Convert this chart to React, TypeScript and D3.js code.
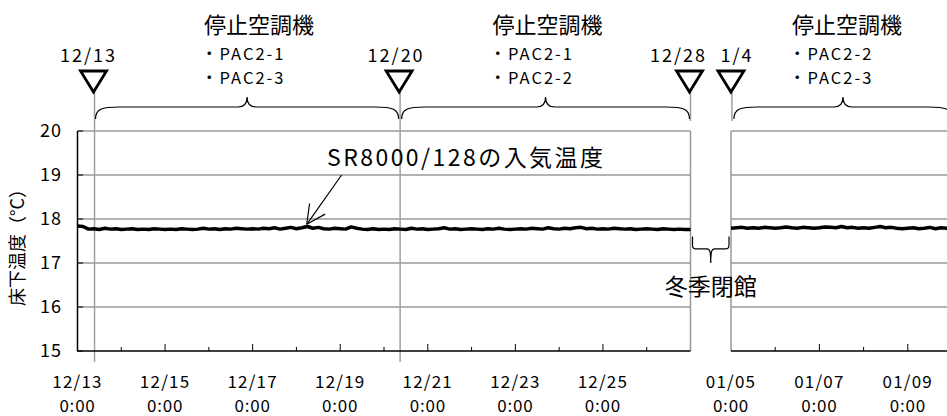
import React from 'react';
import * as d3 from 'd3';

const W = 947;
const H = 416;
const FONT = '"Noto Sans CJK JP", "Noto Sans", sans-serif';

// y axis (床下温度)
const yTicks = [15, 16, 17, 18, 19, 20];

// the two panels of the broken time axis
const leftStart = new Date(2008, 11, 13);
const leftEnd = new Date(2008, 11, 27);
const rightStart = new Date(2009, 0, 5);
const rightEnd = new Date(2009, 0, 10);
const stepHours = 3;

// SR8000/128 inlet temperature, every 3 hours
const leftTemps = [
  17.84, 17.83, 17.77, 17.78, 17.76, 17.79, 17.77, 17.78,
  17.76, 17.77, 17.78, 17.76, 17.77, 17.76, 17.78, 17.77,
  17.76, 17.77, 17.76, 17.78, 17.77, 17.76, 17.77, 17.79,
  17.77, 17.78, 17.76, 17.78, 17.77, 17.79, 17.78, 17.77,
  17.78, 17.77, 17.79, 17.78, 17.8, 17.77, 17.79, 17.81,
  17.78, 17.8, 17.83, 17.79, 17.81, 17.78, 17.77, 17.79,
  17.78, 17.77, 17.82, 17.79, 17.77, 17.76, 17.78, 17.76,
  17.77, 17.76, 17.78, 17.77, 17.76, 17.79, 17.77, 17.78,
  17.76, 17.77, 17.78, 17.8, 17.77, 17.78, 17.76, 17.77,
  17.78, 17.77, 17.76, 17.78, 17.77, 17.79, 17.77, 17.76,
  17.77, 17.78, 17.77, 17.79, 17.78, 17.77, 17.8, 17.78,
  17.77, 17.79, 17.78, 17.8, 17.81, 17.78, 17.79, 17.77,
  17.78, 17.77, 17.79, 17.78, 17.77, 17.78, 17.76, 17.77,
  17.78, 17.77, 17.76, 17.78, 17.77, 17.76, 17.77, 17.76,
  17.76,
];
const rightTemps = [
  17.79, 17.8, 17.81, 17.79, 17.8, 17.79, 17.81, 17.8,
  17.79, 17.8, 17.82, 17.8, 17.79, 17.81, 17.8, 17.79,
  17.8, 17.82, 17.81, 17.8, 17.83, 17.8, 17.81, 17.79,
  17.8, 17.79, 17.81, 17.83, 17.8, 17.81, 17.79, 17.78,
  17.79, 17.8, 17.78, 17.79, 17.81, 17.78, 17.8, 17.79,
  17.79,
];

// labelled x ticks
const leftLabelDates = [13, 15, 17, 19, 21, 23, 25].map(d => new Date(2008, 11, d));
const rightLabelDates = [5, 7, 9].map(d => new Date(2009, 0, d));

// event markers (▽)
const markers = [
  { label: '12/13', date: new Date(2008, 11, 13, 9, 20), panel: 'L' },
  { label: '12/20', date: new Date(2008, 11, 20, 8, 50), panel: 'L' },
  { label: '12/28', date: new Date(2008, 11, 27, 0, 0), panel: 'L' },
  { label: '1/4', date: new Date(2009, 0, 5, 0, 30), panel: 'R' },
];

const stopTitle = '停止空調機';
const stopUnits = [
  ['・PAC2-1', '・PAC2-3'],
  ['・PAC2-1', '・PAC2-2'],
  ['・PAC2-2', '・PAC2-3'],
];

const seriesName = 'SR8000/128の入気温度';
const closedLabel = '冬季閉館';
const yTitle = '床下温度（°C）';

const xL = d3.scaleTime().domain([leftStart, leftEnd]).range([77.5, 690.5]);
const xR = d3.scaleTime().domain([rightStart, rightEnd]).range([731, 952]);
const y = d3.scaleLinear().domain([15, 20]).range([351, 131]);

const fmtDay = d3.timeFormat('%m/%d');
const fmtTime = d3.timeFormat('%-H:%M');

const withDates = (start: Date, vals: number[]) =>
  vals.map((v, i) => ({ date: d3.timeHour.offset(start, i * stepHours), v }));

const braceUp = (x0: number, x1: number, yEnd: number, yFlat: number, yTip: number) => {
  const xm = (x0 + x1) / 2;
  const r = 24;
  const r2 = 9;
  return `M${x0},${yEnd} C${x0},${yFlat + 2} ${x0 + 6},${yFlat} ${x0 + r},${yFlat}
    L${xm - r2},${yFlat} C${xm - 3},${yFlat} ${xm},${yFlat - 3} ${xm},${yTip}
    C${xm},${yFlat - 3} ${xm + 3},${yFlat} ${xm + r2},${yFlat}
    L${x1 - r},${yFlat} C${x1 - 6},${yFlat} ${x1},${yFlat + 2} ${x1},${yEnd}`;
};

const braceDown = (x0: number, x1: number, yEnd: number, yFlat: number, yTip: number) => {
  const xm = (x0 + x1) / 2;
  return `M${x0},${yEnd} L${x0},${yFlat - 4} C${x0},${yFlat} ${x0 + 2},${yFlat} ${x0 + 6},${yFlat}
    L${xm - 4},${yFlat} C${xm - 1},${yFlat} ${xm},${yFlat + 2} ${xm},${yTip}
    C${xm},${yFlat + 2} ${xm + 1},${yFlat} ${xm + 4},${yFlat}
    L${x1 - 6},${yFlat} C${x1 - 2},${yFlat} ${x1},${yFlat} ${x1},${yFlat - 4} L${x1},${yEnd}`;
};

const App = () => {
  const line = d3.line<{ date: Date; v: number }>().y(d => y(d.v));
  const leftPath = line.x(d => xL(d.date))(withDates(leftStart, leftTemps)) || '';
  const rightPath = line.x(d => xR(d.date))(withDates(rightStart, rightTemps)) || '';

  const mx = markers.map(m => (m.panel === 'L' ? xL(m.date) : xR(m.date)));
  const labelDx = [-6, -4, -12, 5];
  const yTop = y(20);
  const yBot = y(15);

  const leftDays = d3.timeDay.range(d3.timeDay.offset(leftStart, 1), leftEnd);
  const rightDays = d3.timeDay.range(d3.timeDay.offset(rightStart, 1), rightEnd);
  const isMajor = (d: Date, labels: Date[]) => labels.some(l => +l === +d);

  // spans of the stop groups: marker to marker, last one to the end of the axis
  const spans: [number, number][] = [
    [mx[0] + 1, mx[1] - 1.5],
    [mx[1] + 1.5, mx[2] - 1],
    [mx[3] + 2, xR(rightEnd)],
  ];
  const textDx = [-43, -53, -51];

  const arrowTip: [number, number] = [xL(new Date(2008, 11, 18, 5, 40)), y(17.88)];
  const arrowTail: [number, number] = [xL(new Date(2008, 11, 19, 0, 45)), y(19)];
  const ang = Math.atan2(arrowTail[1] - arrowTip[1], arrowTail[0] - arrowTip[0]);
  const head = [-0.48, 0.45].map(a => [
    arrowTip[0] + 21 * Math.cos(ang + a),
    arrowTip[1] + 21 * Math.sin(ang + a),
  ]);

  const gapL = xL(leftEnd);
  const gapR = xR(rightStart);
  const gapMid = (gapL + gapR) / 2;

  return (
    <svg width={W} height={H} style={{ position: 'absolute', left: 0, top: 0, background: '#fff' }}
      fontFamily={FONT}>
      {/* grid lines */}
      {yTicks.filter(t => t > 15).map(t => (
        <g key={t}>
          <line x1={xL.range()[0]} x2={gapL} y1={y(t)} y2={y(t)} stroke="#666" strokeWidth={1} />
          <line x1={gapR} x2={W} y1={y(t)} y2={y(t)} stroke="#666" strokeWidth={1} />
        </g>
      ))}
      {/* panel borders at the break */}
      <line x1={gapL} x2={gapL} y1={yTop} y2={yBot} stroke="#999" strokeWidth={1.5} />
      <line x1={gapR} x2={gapR} y1={yTop} y2={yBot} stroke="#999" strokeWidth={1.5} />

      {/* marker lines */}
      {mx.map((x, i) => (
        <line key={i} x1={x} x2={x} y1={92} y2={i < 2 ? 362 : 121} stroke="#a0a0a0" strokeWidth={1.5} />
      ))}

      {/* y axis */}
      <line x1={77.5} x2={77.5} y1={yTop} y2={yBot} stroke="#000" strokeWidth={1.5} />
      {yTicks.map(t => (
        <g key={t}>
          <line x1={77.5} x2={83} y1={y(t)} y2={y(t)} stroke="#000" />
          <text x={62} y={y(t) + 6} textAnchor="end" fontSize={18} letterSpacing={1}>{t}</text>
        </g>
      ))}
      <text transform={`translate(24,243) rotate(-90)`} textAnchor="middle" fontSize={18}>{yTitle}</text>

      {/* x axes */}
      <line x1={77} x2={gapL} y1={yBot} y2={yBot} stroke="#000" strokeWidth={1.5} />
      <line x1={gapR} x2={W} y1={yBot} y2={yBot} stroke="#000" strokeWidth={1.5} />
      {leftDays.map(d => (
        <line key={+d} x1={xL(d)} x2={xL(d)} y1={yBot} y2={yBot - (isMajor(d, leftLabelDates) ? 7 : 4)} stroke="#000" />
      ))}
      {rightDays.map(d => (
        <line key={+d} x1={xR(d)} x2={xR(d)} y1={yBot} y2={yBot - (isMajor(d, rightLabelDates) ? 7 : 4)} stroke="#000" />
      ))}
      {[...leftLabelDates.map(d => [xL(d), d] as [number, Date]), ...rightLabelDates.map(d => [xR(d), d] as [number, Date])].map(([x, d]) => (
        <g key={+d}>
          <text x={x} y={388} textAnchor="middle" fontSize={17} letterSpacing={1.2}>{fmtDay(d)}</text>
          <text x={x} y={412} textAnchor="middle" fontSize={17} letterSpacing={0.8}>{fmtTime(d)}</text>
        </g>
      ))}

      {/* data */}
      <path d={leftPath} fill="none" stroke="#000" strokeWidth={3.5} strokeLinejoin="round" />
      <path d={rightPath} fill="none" stroke="#000" strokeWidth={3.5} strokeLinejoin="round" />

      {/* markers */}
      {markers.map((m, i) => (
        <g key={m.label}>
          <path d={`M${mx[i] - 14},71 L${mx[i] + 12},71 L${mx[i] - 1},92 Z`} fill="#fff" stroke="#000" strokeWidth={2.8} />
          <text x={mx[i] + labelDx[i]} y={62} textAnchor="middle" fontSize={18} letterSpacing={2}>{m.label}</text>
        </g>
      ))}

      {/* stop groups */}
      {spans.map(([a, b], i) => (
        <g key={i}>
          <path d={braceUp(a, b, 119, 107, 97)} fill="none" stroke="#000" strokeWidth={1.2} />
          <text x={(a + b) / 2 + textDx[i]} y={33} fontSize={22}>{stopTitle}</text>
          {stopUnits[i].map((u, j) => (
            <text key={j} x={(a + b) / 2 + textDx[i] - 3} y={59.5 + j * 24} fontSize={16.5} letterSpacing={2}>{u}</text>
          ))}
        </g>
      ))}

      {/* series annotation */}
      <text x={327} y={166} fontSize={23} textLength={276} lengthAdjust="spacing">{seriesName}</text>
      <line x1={arrowTail[0]} y1={arrowTail[1]} x2={arrowTip[0]} y2={arrowTip[1]} stroke="#000" strokeWidth={1.2} />
      {head.map(([hx, hy], i) => (
        <line key={i} x1={arrowTip[0]} y1={arrowTip[1]} x2={hx} y2={hy} stroke="#000" strokeWidth={1.2} />
      ))}

      {/* winter closure */}
      <path d={braceDown(gapL + 2, gapR - 2, y(17.6), y(17.32), y(17.0))} fill="none" stroke="#000" strokeWidth={1.2} />
      <text x={gapMid} y={295} textAnchor="middle" fontSize={23}>{closedLabel}</text>
    </svg>
  );
};

export default App;
